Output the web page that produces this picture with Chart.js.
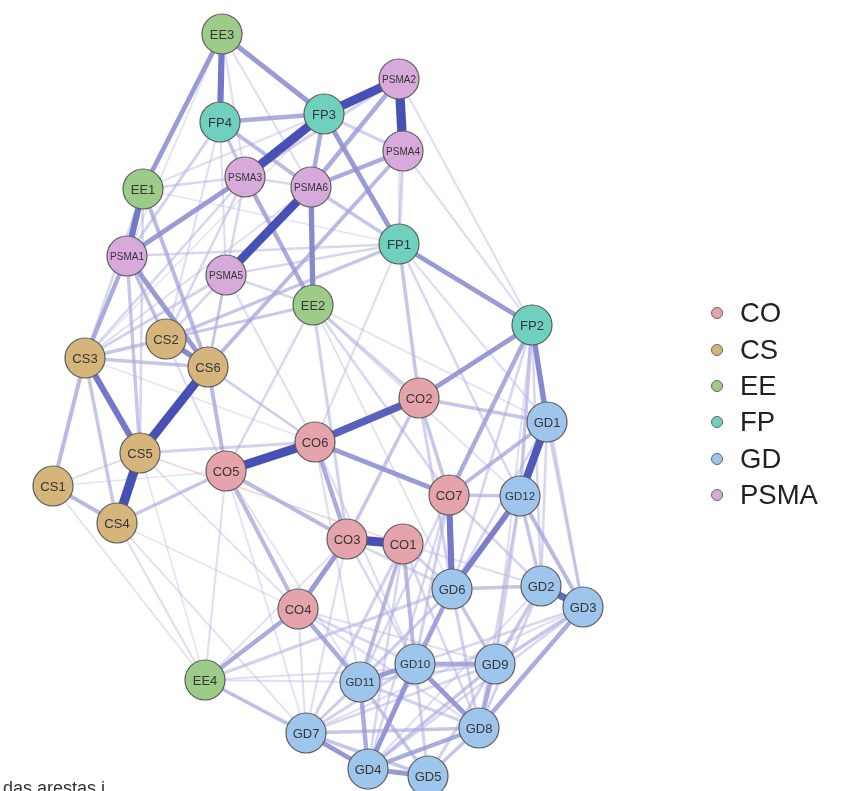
<!DOCTYPE html>
<html>
<head>
<meta charset="utf-8">
<script src="https://cdn.jsdelivr.net/npm/chart.js@4.4.0/dist/chart.umd.min.js"></script>
<style>
  body { margin: 0; background: #fff; overflow: hidden; font-family: 'Liberation Sans', Arial, sans-serif; }
  #wrap { position: relative; width: 849px; height: 791px; }
  #legend { position: absolute; left: 711px; top: 295px; }
  .item { display: flex; align-items: center; height: 36.4px; font-size: 27.5px; color: #222; }
  .dot { width: 10px; height: 10px; border-radius: 50%; border: 1px solid #666; margin-right: 17px; }
  #caption { position: absolute; left: 3px; top: 779px; font-size: 18px; line-height: 18px; color: #333; white-space: nowrap; }
</style>
</head>
<body>
<div id="wrap">
  <canvas id="net" width="849" height="791"></canvas>
  <div id="legend"></div>
  <div id="caption">das arestas i</div>
</div>
<script>
// node groups (legend order)
const groups = ['CO', 'CS', 'EE', 'FP', 'GD', 'PSMA'];

// node names and layout coordinates
const nodeNames = ['EE3','FP4','FP3','PSMA2','PSMA4','PSMA3','PSMA6','EE1','PSMA1','PSMA5',
                   'FP1','EE2','FP2','CS2','CS3','CS6','CO2','GD1','CO6','CS5',
                   'CO5','CS1','CO7','GD12','CS4','CO3','CO1','GD6','GD2','GD3',
                   'CO4','EE4','GD10','GD9','GD11','GD8','GD7','GD4','GD5'];
const layoutX = [222, 220, 324, 399, 403, 245, 311, 143, 127, 226,
                 399, 313, 532, 166,  85, 208, 419, 547, 315, 140,
                 226,  53, 449, 520, 117, 347, 403, 452, 541, 583,
                 298, 205, 415, 495, 360, 479, 306, 368, 428];
const layoutY = [ 34, 122, 114,  79, 151, 177, 187, 189, 256, 275,
                 244, 305, 325, 339, 358, 367, 398, 422, 442, 453,
                 471, 486, 495, 496, 523, 539, 544, 589, 586, 607,
                 609, 680, 664, 664, 682, 728, 733, 769, 776];

// edges: [from, to, weight]
const strongEdges = [
  ['FP3','PSMA2',0.9], ['PSMA2','PSMA4',0.95], ['FP3','PSMA3',0.9], ['PSMA6','PSMA5',0.85],
  ['CS6','CS5',0.9], ['CS5','CS4',0.95], ['CO5','CO6',0.9], ['CO6','CO2',0.75],
  ['CO3','CO1',0.9], ['GD1','GD12',0.8], ['GD2','GD3',0.7], ['EE1','PSMA1',0.6],
  ['EE3','FP4',0.6], ['CS3','CS5',0.6], ['GD12','GD6',0.55], ['CO7','GD6',0.6],
  ['PSMA6','EE2',0.5], ['FP2','GD1',0.5], ['CS2','CS6',0.5]
];
const mediumEdges = [
  ['EE3','FP3',0.45], ['EE3','EE1',0.45], ['FP4','FP3',0.4], ['FP4','PSMA6',0.35],
  ['PSMA3','PSMA1',0.45], ['PSMA3','EE2',0.4], ['PSMA6','PSMA2',0.4], ['PSMA6','PSMA4',0.4],
  ['FP3','PSMA6',0.4], ['FP3','FP1',0.45], ['PSMA4','CS6',0.35], ['PSMA4','FP1',0.25],
  ['FP1','FP2',0.45], ['EE1','CS6',0.35], ['PSMA1','CS6',0.45], ['PSMA1','CS3',0.4],
  ['CS3','CS1',0.35], ['CS1','CS4',0.35], ['CS3','CS4',0.3], ['CS3','CS2',0.3],
  ['CS3','CS6',0.3], ['CS6','CO5',0.35], ['CS5','CO6',0.25], ['CS4','CO5',0.3],
  ['CO6','CO7',0.45], ['CO6','CO3',0.4], ['CO5','CO3',0.35], ['CO5','CO4',0.35],
  ['CO4','CO3',0.45], ['CO4','EE4',0.4], ['CO4','GD11',0.4], ['EE4','GD7',0.3],
  ['EE4','GD6',0.25], ['CO2','FP2',0.45], ['CO2','GD1',0.3], ['CO2','CO7',0.3],
  ['CO2','CO3',0.3], ['CO2','GD6',0.25], ['FP2','CO7',0.4], ['FP2','GD12',0.3],
  ['FP2','GD2',0.2], ['FP2','GD6',0.2], ['FP1','CO2',0.3], ['FP1','GD12',0.2],
  ['GD1','CO7',0.35], ['GD1','GD3',0.25], ['GD12','CO7',0.3], ['GD12','GD2',0.3],
  ['GD12','GD3',0.35], ['GD6','GD2',0.3], ['GD6','GD10',0.4], ['GD6','GD4',0.3],
  ['GD6','GD9',0.3], ['GD6','GD8',0.25], ['CO1','GD10',0.35], ['CO1','GD11',0.35],
  ['CO1','GD7',0.25], ['CO1','GD6',0.25], ['GD10','GD11',0.45], ['GD10','GD9',0.4],
  ['GD10','GD8',0.45], ['GD10','GD4',0.45], ['GD10','GD7',0.25], ['GD11','GD4',0.4],
  ['GD11','GD5',0.3], ['GD11','GD8',0.25], ['GD9','GD8',0.4], ['GD9','GD2',0.3],
  ['GD3','GD8',0.4], ['GD3','GD9',0.3], ['GD7','GD4',0.45], ['GD7','GD5',0.3],
  ['GD7','GD8',0.3], ['GD7','GD9',0.2], ['GD4','GD5',0.45], ['GD4','GD8',0.4],
  ['GD4','GD9',0.3], ['GD5','GD8',0.3], ['GD4','GD3',0.2], ['GD7','GD11',0.2],
  ['FP4','PSMA3',0.3], ['FP4','PSMA1',0.25], ['PSMA6','FP1',0.3], ['PSMA2','PSMA3',0.25],
  ['PSMA4','FP3',0.25], ['PSMA1','CS2',0.3], ['PSMA5','CS3',0.25], ['FP1','CS2',0.3],
  ['EE2','CS2',0.25], ['EE2','CO2',0.25], ['EE2','CO3',0.25], ['PSMA1','CS5',0.3]
];
const weakEdges = [
  ['EE3','PSMA3',0.15], ['PSMA3','PSMA6',0.2], ['PSMA3','EE1',0.2], ['PSMA1','FP1',0.2],
  ['PSMA5','CS2',0.2], ['PSMA5','CS6',0.2], ['PSMA5','FP1',0.2], ['EE2','CO7',0.2],
  ['EE2','CO5',0.2], ['CS1','EE4',0.12], ['CS4','EE4',0.15], ['CS4','GD7',0.12],
  ['PSMA1','CO5',0.15], ['CS6','CO6',0.15], ['CS2','CO6',0.15], ['CS5','CO4',0.12],
  ['CS1','CS5',0.15], ['CS1','CO5',0.1], ['EE1','CS3',0.2], ['EE1','CS5',0.2],
  ['EE3','PSMA6',0.15], ['EE3','PSMA1',0.12], ['FP4','PSMA5',0.15], ['FP4','CS2',0.15],
  ['PSMA3','CS2',0.2], ['PSMA3','CS6',0.2], ['PSMA6','CS3',0.15], ['PSMA2','FP2',0.15],
  ['PSMA4','FP2',0.15], ['FP1','CO6',0.15], ['FP1','GD1',0.15], ['FP3','EE1',0.15],
  ['PSMA5','CO6',0.15], ['PSMA5','EE2',0.2], ['CO6','GD11',0.15], ['CO6','GD10',0.15],
  ['CO5','GD11',0.12], ['CO5','GD7',0.12], ['CO4','GD7',0.15], ['CO4','GD10',0.2],
  ['CO4','GD9',0.15], ['CO4','GD8',0.15], ['CO3','GD10',0.2], ['CO3','GD6',0.2],
  ['CO3','GD7',0.15], ['CO7','GD10',0.25], ['CO7','GD4',0.2], ['CO7','GD11',0.2],
  ['CO7','GD2',0.2], ['CO1','GD4',0.2], ['CO1','GD8',0.2], ['CO1','GD2',0.15],
  ['GD12','GD9',0.25], ['GD12','GD8',0.2], ['GD1','GD2',0.2], ['GD1','GD6',0.2],
  ['GD2','GD8',0.25], ['GD2','GD4',0.15], ['GD3','GD7',0.15], ['GD3','GD10',0.2],
  ['GD9','GD5',0.25], ['GD9','GD11',0.2], ['GD5','GD10',0.25], ['GD6','GD7',0.15],
  ['GD6','GD11',0.2], ['EE4','GD4',0.15], ['EE4','GD11',0.15], ['EE4','CO3',0.12],
  ['EE4','CS5',0.1], ['EE4','CO5',0.15], ['CS4','CO4',0.1], ['EE2','GD12',0.12],
  ['EE2','GD1',0.12], ['FP2','GD3',0.2], ['FP2','GD9',0.15], ['CS3','PSMA3',0.2],
  ['EE4','GD9',0.15], ['CS5','CO1',-0.1], ['PSMA2','FP1',0.12], ['EE1','FP1',0.1],
  ['CS3','CO6',0.1], ['CS2','EE2',0.12], ['FP3','CS3',0.1], ['EE2','GD6',0.12]
];

const groupColors = {
  CO: '#E5A3AC', CS: '#D5B57B', EE: '#9DCB88', FP: '#6FD0BE', GD: '#9EC5EC', PSMA: '#D8A9DB'
};

const groupOf = name => name.replace(/\d+$/, '');
const idx = name => nodeNames.indexOf(name);
const allEdges = [...weakEdges, ...mediumEdges, ...strongEdges]
  .sort((a, b) => Math.abs(a[2]) - Math.abs(b[2]));

// qgraph-like edge styling from weight
function edgeStyle(w) {
  const a = Math.abs(w);
  const t = Math.min(1, Math.max(0, (a - 0.25) / 0.6));
  const alpha = Math.min(1, 0.18 + 1.6 * a);
  let r = 178 + (72 - 178) * t, g = 176 + (80 - 176) * t, b = 226 + (182 - 226) * t;
  if (w < 0) { r = 225; g = 130; b = 130; }
  return { color: `rgba(${r|0},${g|0},${b|0},${alpha.toFixed(2)})`, width: 0.8 + 9 * a };
}

const edgePlugin = {
  id: 'edges',
  beforeDatasetsDraw(chart) {
    const { ctx, scales: { x, y } } = chart;
    ctx.save();
    ctx.lineCap = 'butt';
    allEdges.forEach(([f, t, w]) => {
      const i = idx(f), j = idx(t);
      const s = edgeStyle(w);
      ctx.strokeStyle = s.color;
      ctx.lineWidth = s.width;
      ctx.beginPath();
      ctx.moveTo(x.getPixelForValue(layoutX[i]), y.getPixelForValue(layoutY[i]));
      ctx.lineTo(x.getPixelForValue(layoutX[j]), y.getPixelForValue(layoutY[j]));
      ctx.stroke();
    });
    ctx.restore();
  }
};

const labelPlugin = {
  id: 'nodeLabels',
  afterDatasetsDraw(chart) {
    const ctx = chart.ctx;
    ctx.save();
    ctx.textAlign = 'center';
    ctx.textBaseline = 'middle';
    ctx.fillStyle = '#363636';
    chart.data.datasets.forEach((ds, di) => {
      chart.getDatasetMeta(di).data.forEach((pt, k) => {
        const name = ds.data[k].name;
        const size = name.length <= 3 ? 13 : (name.length === 4 ? 11.5 : 10);
        ctx.font = `${size}px 'Liberation Sans', Arial, sans-serif`;
        ctx.fillText(name, pt.x, pt.y + 1);
      });
    });
    ctx.restore();
  }
};

const datasets = groups.map(g => ({
  label: g,
  data: nodeNames.map((n, i) => ({ x: layoutX[i], y: layoutY[i], name: n }))
                 .filter(p => groupOf(p.name) === g),
  backgroundColor: groupColors[g],
  borderColor: '#5c5c5c',
  borderWidth: 1.2,
  pointRadius: 20,
  pointHoverRadius: 20
}));

new Chart(document.getElementById('net'), {
  type: 'scatter',
  data: { datasets },
  options: {
    responsive: false,
    animation: false,
    layout: { padding: 0, autoPadding: false },
    plugins: { legend: { display: false }, tooltip: { enabled: false } },
    scales: {
      x: { type: 'linear', min: 0, max: 849, display: false },
      y: { type: 'linear', min: 0, max: 791, reverse: true, display: false }
    }
  },
  plugins: [edgePlugin, labelPlugin]
});

// legend
const legend = document.getElementById('legend');
groups.forEach(g => {
  legend.innerHTML += `<div class="item"><span class="dot" style="background:${groupColors[g]}"></span>${g}</div>`;
});
</script>
</body>
</html>
